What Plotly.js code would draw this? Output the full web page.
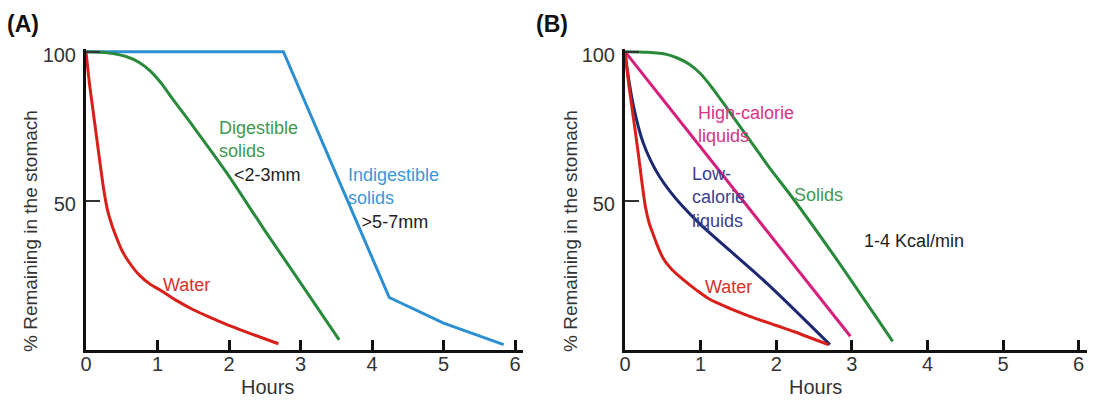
<!DOCTYPE html>
<html>
<head>
<meta charset="utf-8">
<script src="https://cdn.plot.ly/plotly-3.0.1.min.js"></script>
<style>html,body{margin:0;padding:0;background:#fff}#chart{width:1098px;height:400px}</style>
</head>
<body>
<div id="chart"></div>
<script>
// ---------- Panel A data (hours, % remaining) ----------
var aWaterX = [0, 0.05, 0.1, 0.15, 0.2, 0.25, 0.3, 0.36, 0.43, 0.5, 0.6, 0.75, 0.9, 1.03, 1.25, 1.5, 1.75, 1.97, 2.3, 2.69];
var aWaterY = [100, 89, 80, 71, 62, 53.5, 47, 42, 37.5, 33.5, 29.5, 25, 22, 20.2, 16.8, 13.5, 10.8, 8.5, 5.5, 2.1];
var aDigestX = [0, 0.3, 0.57, 0.75, 0.9, 1.05, 1.2, 1.5, 1.97, 2.48, 2.9, 3.54];
var aDigestY = [100, 99.6, 98.3, 96.3, 93.5, 89.5, 84.5, 74.9, 59.3, 40.8, 26, 3.4];
var aIndigX = [0, 2.76, 4.24, 5.0, 5.84];
var aIndigY = [100, 100, 17.6, 9, 1.8];

// ---------- Panel B data ----------
var bWaterX = [0, 0.05, 0.11, 0.17, 0.22, 0.27, 0.32, 0.37, 0.44, 0.51, 0.62, 0.77, 0.95, 1.12, 1.4, 1.65, 2.0, 2.23, 2.69];
var bWaterY = [100, 89, 78, 67, 57, 48, 42.5, 39, 34.3, 30.5, 27, 23.6, 20, 17, 13.8, 11.3, 8.2, 6.2, 1.8];
var bLowCalX = [0, 0.03, 0.07, 0.11, 0.18, 0.24, 0.34, 0.46, 0.6, 0.75, 1.0, 1.87, 2.71];
var bLowCalY = [100, 94, 87.5, 82, 74.5, 69.5, 63.5, 58, 53, 48.5, 42, 22.5, 1.8];
var bHighCalX = [0, 2.98];
var bHighCalY = [100, 4.6];
var bSolidsX = [0, 0.3, 0.55, 0.7, 0.85, 1.0, 1.17, 1.35, 1.52, 1.9, 2.21, 2.76, 3.54];
var bSolidsY = [100, 99.8, 99.1, 97.8, 95.8, 92.6, 87.3, 81, 75, 61.5, 51.2, 31.8, 2.9];

// ---------- Tick labels ----------
var xTicks = [0, 1, 2, 3, 4, 5, 6];
var xTickText = ['0', '1', '2', '3', '4', '5', '6'];
var yTicks = [50, 100];
var yTickText = ['50', '100'];

var C = {
  red: '#d81f1a', green: '#2a8a3c', blue: '#2b8fd2', magenta: '#d41f7c', navy: '#1c2872',
  tGreen: '#3f9a4f', tBlue: '#3a98d6', tRed: '#d8302b', tMag: '#d7338a', tNavy: '#3b4290', txt: '#222'
};
var FONT = 'Liberation Sans, Arial, Helvetica, sans-serif';

function line(x, y, color, xa, ya, shape) {
  return {x: x, y: y, type: 'scatter', mode: 'lines', xaxis: xa, yaxis: ya,
    line: {color: color, width: 3, shape: shape || 'spline', smoothing: 0.8},
    hoverinfo: 'skip', showlegend: false};
}

var traces = [
  line(aIndigX, aIndigY, C.blue, 'x', 'y', 'linear'),
  line(aDigestX, aDigestY, C.green, 'x', 'y'),
  line(aWaterX, aWaterY, C.red, 'x', 'y'),
  line(bSolidsX, bSolidsY, C.green, 'x2', 'y2'),
  line(bHighCalX, bHighCalY, C.magenta, 'x2', 'y2', 'linear'),
  line(bLowCalX, bLowCalY, C.navy, 'x2', 'y2'),
  line(bWaterX, bWaterY, C.red, 'x2', 'y2')
];

var W = 1098, H = 400;
function xAxis(d0, d1, anchor) {
  return {domain: [d0 / W, d1 / W], range: [0, 6.11], anchor: anchor,
    showline: true, linewidth: 3, linecolor: '#111', mirror: false,
    ticks: 'inside', ticklen: 10, tickwidth: 3, tickcolor: '#111',
    tickvals: xTicks, ticktext: xTickText, ticklabelstandoff: -6,
    tickfont: {family: FONT, size: 20, color: '#333'},
    showgrid: false, zeroline: false, fixedrange: true};
}
function yAxis(anchor) {
  return {domain: [50 / H, (H - 49.3) / H], range: [0, 100.8], anchor: anchor,
    showline: true, linewidth: 3, linecolor: '#111',
    ticks: 'inside', ticklen: 14, tickwidth: 2, tickcolor: '#333',
    tickvals: yTicks, ticktext: yTickText, ticklabelstandoff: 3, ticklabelshift: 3,
    tickfont: {family: FONT, size: 20, color: '#333'},
    showgrid: false, zeroline: false, fixedrange: true};
}

function lab(text, x, y, color, xr, yr) {
  return {text: text, x: x, y: y, xref: xr, yref: yr, xanchor: 'left', yanchor: 'middle',
    align: 'left', showarrow: false, borderpad: 0,
    font: {family: FONT, size: 18, color: color}};
}
function paperText(text, px, py, size, opts) {
  var a = {text: text, x: px / W, y: (H - py) / H, xref: 'paper', yref: 'paper',
    xanchor: 'center', yanchor: 'middle', showarrow: false, borderpad: 0,
    font: {family: FONT, size: size, color: '#333'}};
  for (var k in (opts || {})) a[k] = opts[k];
  return a;
}
function blk(s) { return '<span style="color:' + C.txt + '">' + s + '</span>'; }

var annotations = [
  lab('Digestible<br>solids<br>&nbsp;&nbsp;&nbsp;' + blk('&lt;2-3mm'), 1.846, 66.6, C.tGreen, 'x', 'y'),
  lab('Indigestible<br>solids<br>&nbsp;&nbsp;&#8201;' + blk('&gt;5-7mm'), 3.646, 50.9, C.tBlue, 'x', 'y'),
  lab('Water', 1.06, 21.9, C.tRed, 'x', 'y'),

  lab('High-calorie<br>liquids', 0.948, 75.6, C.tMag, 'x2', 'y2'),
  lab('Low-<br>calorie<br>liquids', 0.869, 51.1, C.tNavy, 'x2', 'y2'),
  lab('Solids', 2.218, 51.9, C.tGreen, 'x2', 'y2'),
  lab('1-4 Kcal/min', 3.152, 36.6, C.txt, 'x2', 'y2'),
  lab('Water', 1.045, 21.2, C.tRed, 'x2', 'y2'),

  paperText('Hours', 267, 387, 20),
  paperText('Hours', 815, 387, 20),
  paperText('% Remaining in the stomach', 30, 231, 19, {textangle: -90}),
  paperText('% Remaining in the stomach', 570, 231, 19, {textangle: -90}),
  paperText('<b>(A)</b>', 6, 24, 23, {xanchor: 'left', font: {family: FONT, size: 23, color: '#111'}}),
  paperText('<b>(B)</b>', 535, 24, 23, {xanchor: 'left', font: {family: FONT, size: 23, color: '#111'}})
];

var layout = {
  width: W, height: H,
  margin: {l: 0, r: 0, t: 0, b: 0},
  paper_bgcolor: '#fff', plot_bgcolor: '#fff',
  showlegend: false,
  xaxis: xAxis(86, 523, 'y'),
  yaxis: yAxis('x'),
  xaxis2: xAxis(625, 1087, 'y2'),
  yaxis2: yAxis('x2'),
  annotations: annotations
};

Plotly.newPlot('chart', traces, layout, {staticPlot: true, displayModeBar: false});
</script>
</body>
</html>
